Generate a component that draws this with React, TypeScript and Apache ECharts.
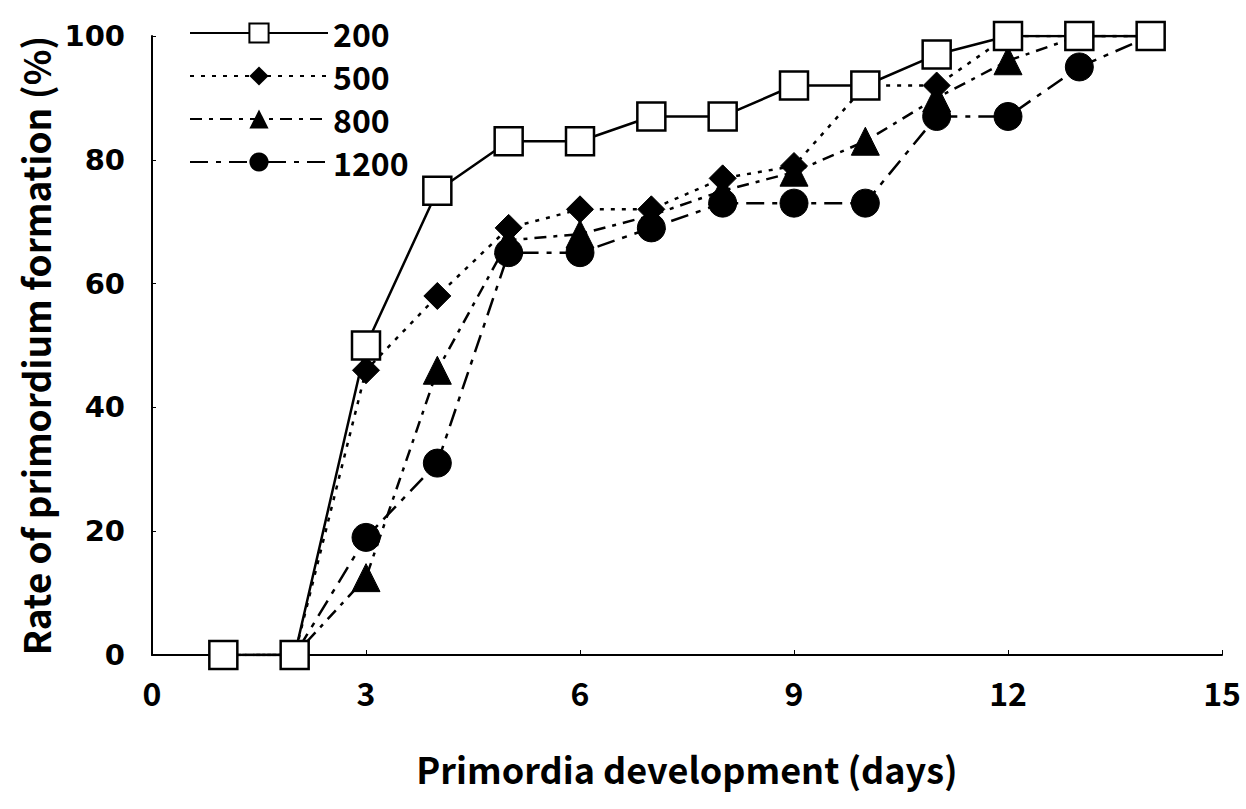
import React, { useEffect, useRef } from "react";
import * as echarts from "echarts";

const days = [1, 2, 3, 4, 5, 6, 7, 8, 9, 10, 11, 12, 13, 14];
const s200 = [0, 0, 50, 75, 83, 83, 87, 87, 92, 92, 97, 100, 100, 100];
const s500 = [0, 0, 46, 58, 69, 72, 72, 77, 79, 92, 92, 100, 100, 100];
const s800 = [0, 0, 12.5, 46, 67, 68, 71, 75, 78, 83, 90, 96, 100, 100];
const s1200 = [0, 0, 19, 31, 65, 65, 69, 73, 73, 73, 87, 87, 95, 100];
const seriesNames = ["200", "500", "800", "1200"];
const xTitle = "Primordia development (days)";
const yTitle = "Rate of primordium formation (%)";

const pair = (vals: number[]) => days.map((d, i) => [d, vals[i]]);

export default function App() {
  const ref = useRef<HTMLDivElement>(null);
  useEffect(() => {
    document.body.style.margin = "0";
    if (!ref.current) return;
    const chart = echarts.init(ref.current, null, { renderer: "svg" });
    const titleFont = "'Noto Sans CJK KR', 'Noto Sans', sans-serif";
    const base = {
      type: "line",
      animation: false,
      lineStyle: { color: "#000", width: 2.5 },
      itemStyle: { color: "#000", borderColor: "#000" },
      showAllSymbol: true,
    };
    chart.setOption({
      animation: false,
      backgroundColor: "#fff",
      grid: { left: 152, right: 24, top: 36, bottom: 154, containLabel: false },
      legend: {
        orient: "vertical",
        left: 184,
        top: 12,
        itemWidth: 138,
        itemHeight: 24,
        itemGap: 11,
        data: seriesNames,
        textStyle: {
          fontFamily: titleFont,
          fontWeight: "bold",
          fontSize: 32,
          lineHeight: 24,
          color: "#000",
        },
      },
      xAxis: {
        type: "value",
        min: 0,
        max: 15,
        interval: 3,
        name: xTitle,
        nameLocation: "middle",
        nameGap: 95,
        nameTextStyle: { fontFamily: titleFont, fontWeight: "bold", fontSize: 36, color: "#000" },
        axisLine: { onZero: false, lineStyle: { color: "#000", width: 2 } },
        axisTick: { show: true, inside: true, length: 5, lineStyle: { color: "#000", width: 1 } },
        axisLabel: { margin: 21, fontFamily: titleFont, fontWeight: "bold", fontSize: 32, color: "#000" },
        splitLine: { show: false },
      },
      yAxis: {
        type: "value",
        min: 0,
        max: 100,
        interval: 20,
        name: yTitle,
        nameLocation: "middle",
        nameGap: 93,
        nameRotate: 90,
        nameTextStyle: { fontFamily: titleFont, fontWeight: "bold", fontSize: 37, color: "#000" },
        axisLine: { onZero: false, lineStyle: { color: "#000", width: 2 } },
        axisTick: { show: true, inside: true, length: 4, lineStyle: { color: "#000", width: 1 } },
        axisLabel: { margin: 27, fontFamily: "'DejaVu Sans', sans-serif", fontWeight: "bold", fontSize: 29, color: "#000" },
        splitLine: { show: false },
      },
      series: [
        {
          ...base,
          name: "1200",
          z: 2,
          data: pair(s1200),
          symbol: "circle",
          symbolSize: 28,
          lineStyle: { color: "#000", width: 2.5, type: [18, 8, 5, 8] },
        },
        {
          ...base,
          name: "800",
          z: 3,
          data: pair(s800),
          symbol: "triangle",
          symbolSize: 28,
          lineStyle: { color: "#000", width: 2.5, type: [12, 7, 4, 7] },
        },
        {
          ...base,
          name: "500",
          z: 4,
          data: pair(s500),
          symbol: "diamond",
          symbolSize: 27,
          lineStyle: { color: "#000", width: 2.5, type: [4, 7] },
        },
        {
          ...base,
          name: "200",
          z: 5,
          data: pair(s200),
          symbol: "rect",
          symbolSize: 28,
          itemStyle: { color: "#fff", borderColor: "#000", borderWidth: 2.5 },
          lineStyle: { color: "#000", width: 2.5, type: "solid" },
        },
      ],
    });
    return () => chart.dispose();
  }, []);
  return <div ref={ref} style={{ width: 1246, height: 809 }} />;
}
